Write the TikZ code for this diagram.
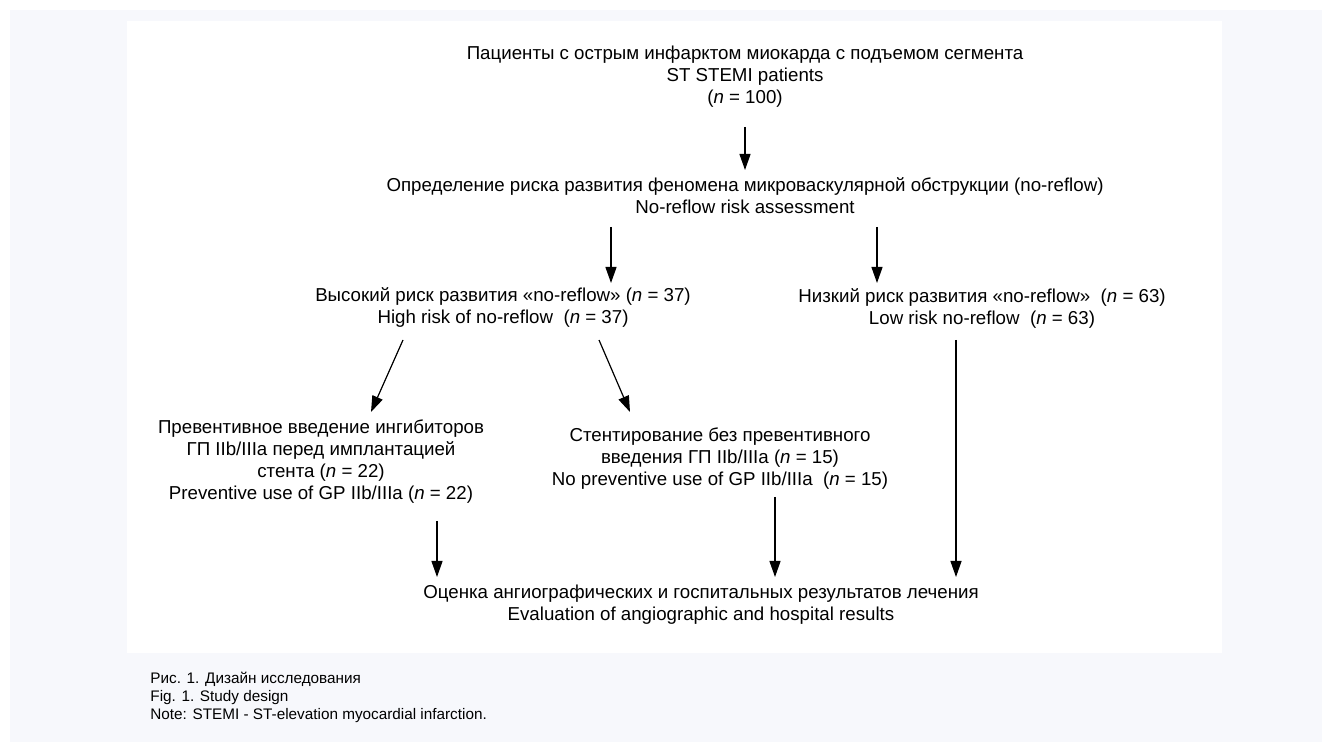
\documentclass[tikz,border=0pt]{standalone}
\usepackage{fontspec}
\setmainfont{Liberation Sans}
\usetikzlibrary{calc,arrows.meta}
\definecolor{pagegray}{RGB}{247,248,252}

\begin{document}
\begin{tikzpicture}[x=0.5pt,y=-0.5pt,
		txt/.style={inner sep=0pt, align=center, font=\fontsize{9.35pt}{11pt}\selectfont},
		arr/.style={line width=0.6pt, -{Triangle[length=8pt,width=5.5pt]}}]
			% Background and panel
			\useasboundingbox (0,0) rectangle (1322,742);
			\fill[pagegray] (10,10) rectangle (1322,742);
			\fill[white] (127,21) rectangle (1222,653);
			
			% Define nodes
			\node[txt] (patients) at (745,77) {Пациенты с острым инфарктом миокарда с подъемом сегмента\\ST STEMI patients\\(\textit{n} = 100)};
			\node[txt] (assess) at (745,196) {Определение риска развития феномена микроваскулярной обструкции (no-reflow)\\No-reflow risk assessment};
			\node[txt] (highrisk) at (503,308) {Высокий риск развития «no-reflow» (\textit{n} = 37)\\High risk of no-reflow~~(\textit{n} = 37)};
			\node[txt] (lowrisk) at (982,308) {Низкий риск развития «no-reflow»~~(\textit{n} = 63)\\Low risk no-reflow~~(\textit{n} = 63)};
			\node[txt] (prevgp) at (321,462) {Превентивное введение ингибиторов\\ГП IIb/IIIa перед имплантацией\\стента (\textit{n} = 22)\\Preventive use of GP IIb/IIIa (\textit{n} = 22)};
			\node[txt] (nogp) at (720,459) {Стентирование без превентивного\\введения ГП IIb/IIIa (\textit{n} = 15)\\No preventive use of GP IIb/IIIa~~(\textit{n} = 15)};
			\node[txt] (outcome) at (701,605) {Оценка ангиографических и госпитальных результатов лечения\\Evaluation of angiographic and hospital results};
			\node[inner sep=0pt, align=left, anchor=west, font=\fontsize{7.65pt}{9pt}\selectfont] (caption) at (150,697) {Рис. 1. Дизайн исследования\\Fig. 1. Study design\\Note: STEMI - ST-elevation myocardial infarction.};
			
			% Connect nodes with arrows
			\draw[arr] ($(patients)+(0,50)$) -- ($(assess)+(0,-26)$);
			\draw[arr] ($(assess)+(-134,31)$) -- ($(highrisk)+(108,-25)$);
			\draw[arr] ($(assess)+(132,31)$) -- ($(lowrisk)+(-105,-25)$);
			\draw[arr] ($(highrisk)+(-100,32)$) -- ($(prevgp)+(50,-50)$);
			\draw[arr] ($(highrisk)+(96,32)$) -- ($(nogp)+(-90,-47)$);
			\draw[arr] ($(prevgp)+(116,59)$) -- ($(outcome)+(-264,-28)$);
			\draw[arr] ($(nogp)+(55,38)$) -- ($(outcome)+(74,-28)$);
			\draw[arr] ($(lowrisk)+(-26,32)$) -- ($(outcome)+(255,-28)$);
		\end{tikzpicture}
\end{document}
